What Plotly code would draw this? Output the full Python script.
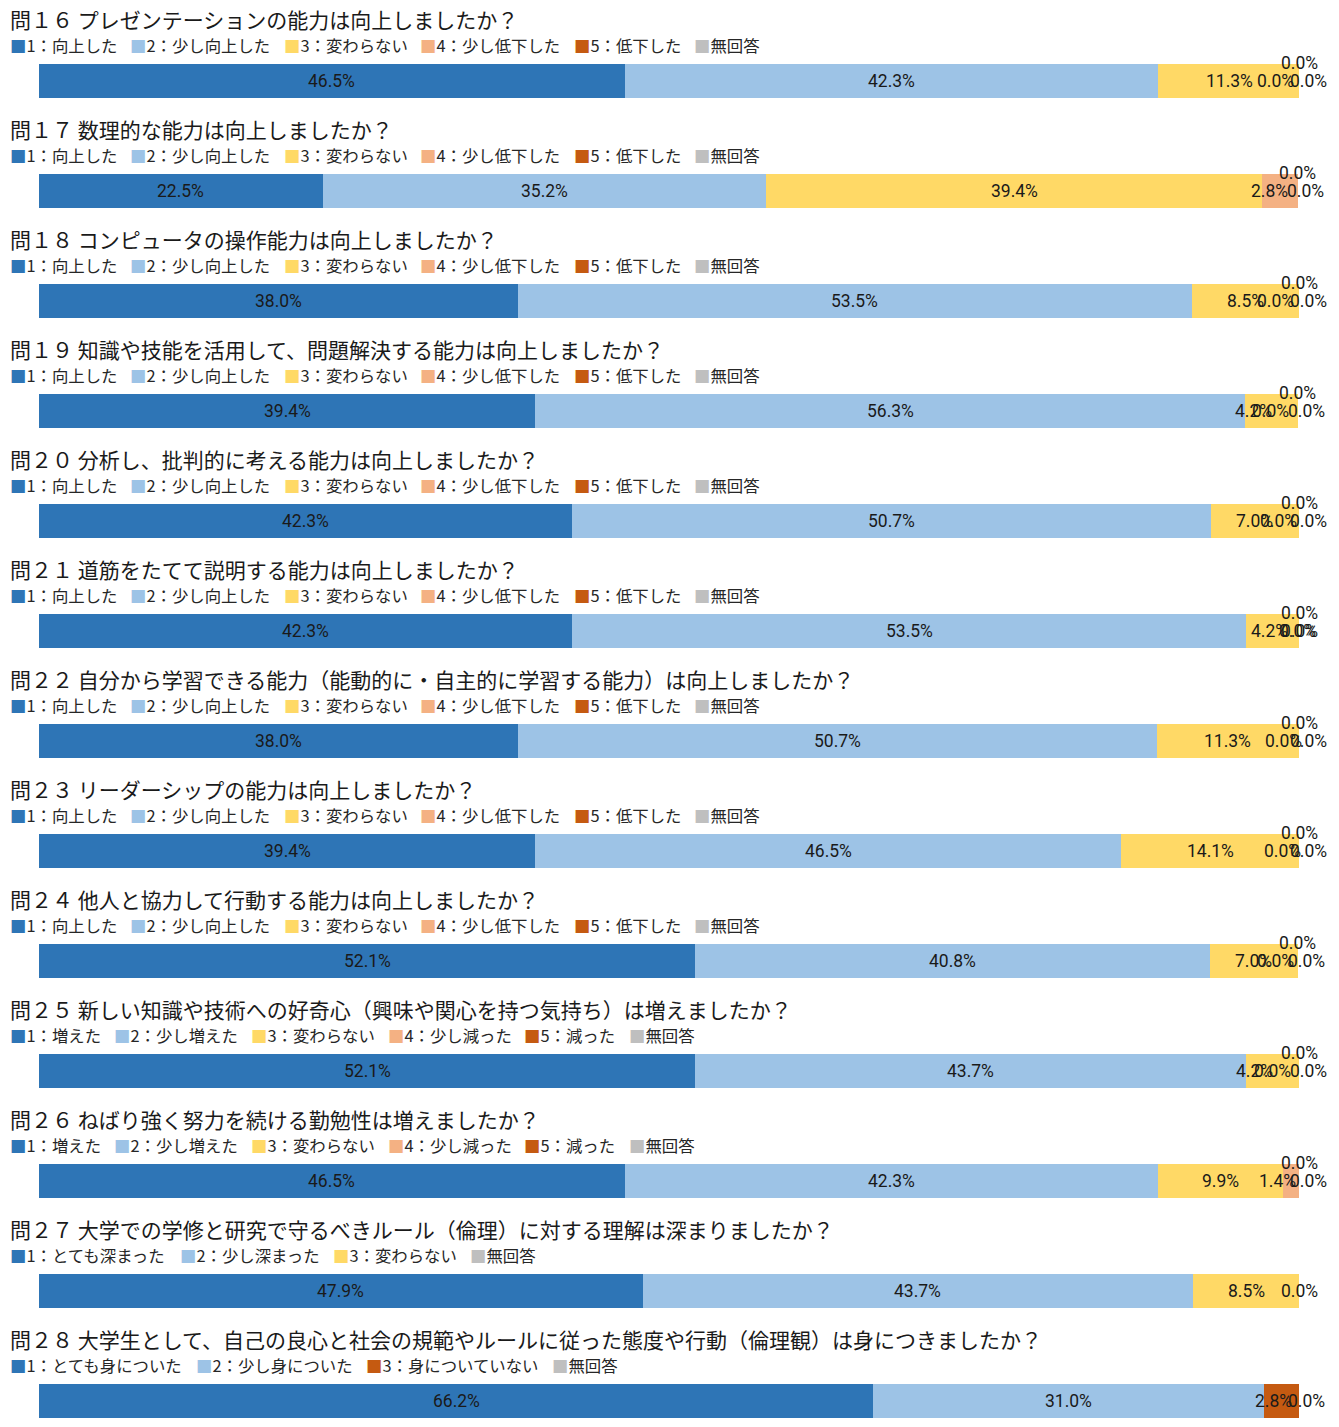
import unicodedata
import plotly.graph_objects as go

# ---- colours of the answer categories ----
COLORS = {
    "c1": "#2E75B6",
    "c2": "#9DC3E6",
    "c3": "#FFD966",
    "c4": "#F4B183",
    "c5": "#C55A11",
    "na": "#BFBFBF",
}
STACK_ORDER = ["c1", "c2", "c3", "c4", "c5", "na"]

# ---- questions ----
titles = [
    "問１６ プレゼンテーションの能力は向上しましたか？",
    "問１７ 数理的な能力は向上しましたか？",
    "問１８ コンピュータの操作能力は向上しましたか？",
    "問１９ 知識や技能を活用して、問題解決する能力は向上しましたか？",
    "問２０ 分析し、批判的に考える能力は向上しましたか？",
    "問２１ 道筋をたてて説明する能力は向上しましたか？",
    "問２２ 自分から学習できる能力（能動的に・自主的に学習する能力）は向上しましたか？",
    "問２３ リーダーシップの能力は向上しましたか？",
    "問２４ 他人と協力して行動する能力は向上しましたか？",
    "問２５ 新しい知識や技術への好奇心（興味や関心を持つ気持ち）は増えましたか？",
    "問２６ ねばり強く努力を続ける勤勉性は増えましたか？",
    "問２７ 大学での学修と研究で守るべきルール（倫理）に対する理解は深まりましたか？",
    "問２８ 大学生として、自己の良心と社会の規範やルールに従った態度や行動（倫理観）は身につきましたか？",
]

# ---- answer choices ----
legend_ability = ["1：向上した", "2：少し向上した", "3：変わらない", "4：少し低下した", "5：低下した", "無回答"]
legend_increase = ["1：増えた", "2：少し増えた", "3：変わらない", "4：少し減った", "5：減った", "無回答"]
legend_deepen = ["1：とても深まった", "2：少し深まった", "3：変わらない", "無回答"]
legend_ethics = ["1：とても身についた", "2：少し身についた", "3：身についていない", "無回答"]

keys_six = ["c1", "c2", "c3", "c4", "c5", "na"]
keys_deepen = ["c1", "c2", "c3", "na"]
keys_ethics = ["c1", "c2", "c5", "na"]

legend_labels = [legend_ability] * 9 + [legend_increase] * 2 + [legend_deepen, legend_ethics]
category_keys = [keys_six] * 11 + [keys_deepen, keys_ethics]

# ---- answer shares (%) ----
q16 = [46.5, 42.3, 11.3, 0.0, 0.0, 0.0]
q17 = [22.5, 35.2, 39.4, 2.8, 0.0, 0.0]
q18 = [38.0, 53.5, 8.5, 0.0, 0.0, 0.0]
q19 = [39.4, 56.3, 4.2, 0.0, 0.0, 0.0]
q20 = [42.3, 50.7, 7.0, 0.0, 0.0, 0.0]
q21 = [42.3, 53.5, 4.2, 0.0, 0.0, 0.0]
q22 = [38.0, 50.7, 11.3, 0.0, 0.0, 0.0]
q23 = [39.4, 46.5, 14.1, 0.0, 0.0, 0.0]
q24 = [52.1, 40.8, 7.0, 0.0, 0.0, 0.0]
q25 = [52.1, 43.7, 4.2, 0.0, 0.0, 0.0]
q26 = [46.5, 42.3, 9.9, 1.4, 0.0, 0.0]
q27 = [47.9, 43.7, 8.5, 0.0]
q28 = [66.2, 31.0, 2.8, 0.0]
values = [q16, q17, q18, q19, q20, q21, q22, q23, q24, q25, q26, q27, q28]

# pixel nudges (xshift, yshift) for crowded data labels: (row, segment) -> shift
label_nudges = {
    (0, 3): (-24, 0), (0, 4): (9, 0), (0, 5): (0, 18),
    (1, 3): (-11, 0), (1, 4): (8, 0), (1, 5): (0, 18),
    (2, 3): (-24, 0), (2, 4): (9, 0), (2, 5): (0, 18),
    (3, 2): (-18, 0), (3, 3): (-27, 0), (3, 4): (9, 0), (3, 5): (0, 18),
    (4, 3): (-21, 0), (4, 4): (9, 0), (4, 5): (0, 18),
    (5, 2): (-3, 0), (5, 3): (-2, 0), (5, 4): (0, 0), (5, 5): (0, 18),
    (6, 3): (-16, 0), (6, 4): (9, 0), (6, 5): (0, 18),
    (7, 3): (-17, 0), (7, 4): (9, 0), (7, 5): (0, 18),
    (8, 3): (-22, 0), (8, 4): (9, 0), (8, 5): (0, 18),
    (9, 2): (-18, 0), (9, 3): (-27, 0), (9, 4): (9, 0), (9, 5): (0, 18),
    (10, 3): (-14, 0), (10, 4): (9, 0), (10, 5): (0, 18),
    (12, 2): (-8, 0), (12, 3): (7, 0),
}

# ---- page geometry ----
W, H = 1339, 1427
ROW_STEP = 110          # px between consecutive questions
FIRST_BAR_Y = 81        # px, centre of the first bar
BAR_PX = 34             # bar thickness in px
PLOT_LEFT, PLOT_RIGHT = 39, 1299
TITLE_OFFSET = 62.5     # px above bar centre
LEGEND_OFFSET = 36      # px above bar centre
LEGEND_GAP = 13         # px between legend entries
X_MAX = 100.0

TITLE_FONT = dict(family="Noto Sans CJK JP", size=21, color="#1a1a1a")
LEGEND_FONT = dict(family="Noto Sans CJK JP", size=16.4, color="#262626")
LABEL_FONT = dict(family="Roboto", size=17.5, color="#1a1a1a")

n = len(values)
rows = list(range(n))

fig = go.Figure()

# one stacked trace per answer colour
for key in STACK_ORDER:
    xs = []
    for k in rows:
        keys = category_keys[k]
        xs.append(values[k][keys.index(key)] if key in keys else None)
    fig.add_trace(go.Bar(
        x=xs, y=rows, orientation="h",
        width=BAR_PX / ROW_STEP,
        marker=dict(color=COLORS[key], line=dict(width=0)),
        hoverinfo="skip", showlegend=False,
    ))


def text_width(s, size):
    w = 0.0
    for ch in s:
        w += size if unicodedata.east_asian_width(ch) in ("W", "F", "A") else 0.55 * size
    return w


annotations = []
for k in rows:
    # question title
    annotations.append(dict(
        text=titles[k], xref="paper", x=8 / W, xanchor="left",
        yref="y", y=k, yshift=TITLE_OFFSET, yanchor="middle",
        showarrow=False, font=TITLE_FONT,
    ))
    # per-question legend
    lx = 8.0
    for lab, key in zip(legend_labels[k], category_keys[k]):
        annotations.append(dict(
            text=f"<span style='color:{COLORS[key]}'>■</span>{lab}",
            xref="paper", x=lx / W, xanchor="left",
            yref="y", y=k, yshift=LEGEND_OFFSET, yanchor="middle",
            showarrow=False, font=LEGEND_FONT,
        ))
        lx += text_width("■" + lab, LEGEND_FONT["size"]) + LEGEND_GAP
    # data labels (rounded shares can total 100.1, keep anchors on the axis)
    cum = 0.0
    for j, v in enumerate(values[k]):
        xs_, ys_ = label_nudges.get((k, j), (0, 0))
        annotations.append(dict(
            text=f"{v:.1f}%", xref="x", x=min(cum + v / 2, X_MAX), xanchor="center",
            yref="y", y=k, yanchor="middle", xshift=xs_, yshift=ys_,
            showarrow=False, font=LABEL_FONT,
        ))
        cum += v

y_top = -FIRST_BAR_Y / ROW_STEP
y_bottom = (H - FIRST_BAR_Y) / ROW_STEP

fig.update_layout(
    width=W, height=H,
    margin=dict(l=0, r=0, t=0, b=0),
    paper_bgcolor="white", plot_bgcolor="white",
    barmode="stack", bargap=0,
    xaxis=dict(range=[0, X_MAX], domain=[PLOT_LEFT / W, PLOT_RIGHT / W],
               visible=False, fixedrange=True),
    yaxis=dict(range=[y_bottom, y_top], domain=[0, 1],
               visible=False, fixedrange=True),
    annotations=annotations,
)

fig.write_html("out.html", config={"displayModeBar": False})
